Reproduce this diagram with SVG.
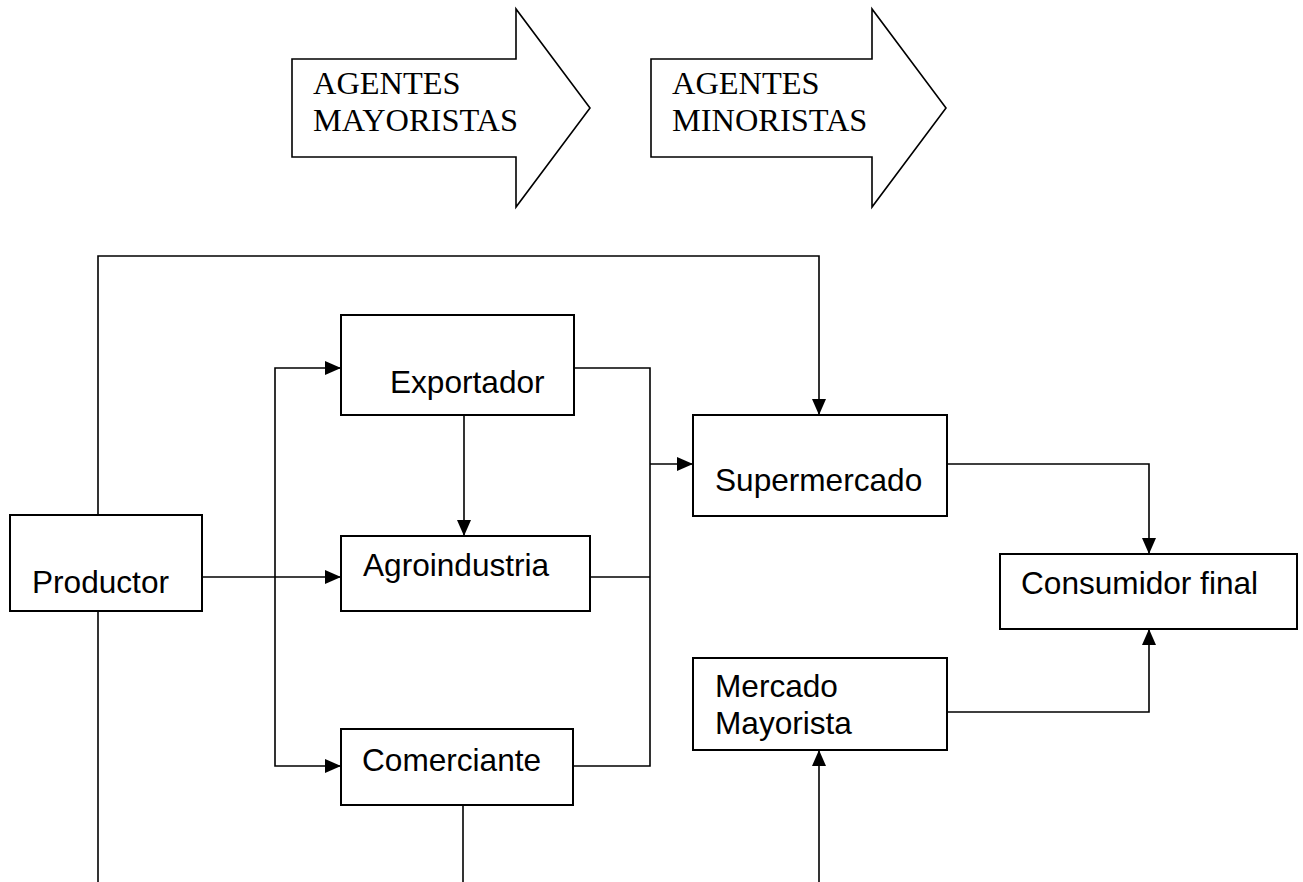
<svg xmlns="http://www.w3.org/2000/svg" width="1303" height="882" viewBox="0 0 1303 882">
<style>
.box{fill:#fff;stroke:#000;stroke-width:2}
.big{fill:#fff;stroke:#000;stroke-width:1.6;stroke-linejoin:miter}
.t{font-family:"Liberation Sans",Arial,sans-serif;font-size:31.6px;fill:#000}
.s{font-family:"Liberation Serif","Times New Roman",serif;font-size:32.4px;fill:#000}
.ln{fill:none;stroke:#000;stroke-width:1.6}
</style>
<defs>
<marker id="ah" viewBox="0 0 16 14" refX="16" refY="7" markerWidth="16" markerHeight="14" markerUnits="userSpaceOnUse" orient="auto">
<path d="M0,0 L16,7 L0,14 Z" fill="#000"/>
</marker>
</defs>
<rect width="1303" height="882" fill="#fff"/>
<g id="arrow-mayoristas">
<path class="big" d="M292,59 L516,59 L516,9 L590,108 L516,207 L516,157 L292,157 Z"/>
<text class="s" x="313" y="94">AGENTES</text>
<text class="s" x="313" y="131">MAYORISTAS</text>
</g>
<g id="arrow-minoristas">
<path class="big" d="M651,59 L872,59 L872,9 L946,108 L872,207 L872,157 L651,157 Z"/>
<text class="s" x="672" y="94">AGENTES</text>
<text class="s" x="672" y="131">MINORISTAS</text>
</g>
<g id="connectors">
<polyline class="ln" points="98,515 98,256 819,256 819,415" marker-end="url(#ah)"/>
<line class="ln" x1="98" y1="611" x2="98" y2="882"/>
<line class="ln" x1="202" y1="577" x2="341" y2="577" marker-end="url(#ah)"/>
<polyline class="ln" points="275,577 275,368 341,368" marker-end="url(#ah)"/>
<polyline class="ln" points="275,577 275,766 341,766" marker-end="url(#ah)"/>
<line class="ln" x1="464" y1="415" x2="464" y2="536" marker-end="url(#ah)"/>
<polyline class="ln" points="574,368 650,368 650,766 573,766"/>
<line class="ln" x1="590" y1="577" x2="650" y2="577"/>
<line class="ln" x1="650" y1="464" x2="693" y2="464" marker-end="url(#ah)"/>
<polyline class="ln" points="947,464 1149,464 1149,554" marker-end="url(#ah)"/>
<polyline class="ln" points="947,712 1149,712 1149,629" marker-end="url(#ah)"/>
<line class="ln" x1="463" y1="805" x2="463" y2="882"/>
<line class="ln" x1="819" y1="882" x2="819" y2="750" marker-end="url(#ah)"/>
</g>
<g id="productor">
<rect class="box" x="10" y="515" width="192" height="96"/>
<text class="t" x="32" y="593">Productor</text>
</g>
<g id="exportador">
<rect class="box" x="341" y="315" width="233" height="100"/>
<text class="t" x="390" y="393">Exportador</text>
</g>
<g id="agroindustria">
<rect class="box" x="341" y="536" width="249" height="75"/>
<text class="t" x="363" y="576">Agroindustria</text>
</g>
<g id="comerciante">
<rect class="box" x="341" y="729" width="232" height="76"/>
<text class="t" x="362" y="771">Comerciante</text>
</g>
<g id="supermercado">
<rect class="box" x="693" y="415" width="254" height="101"/>
<text class="t" x="715" y="491">Supermercado</text>
</g>
<g id="consumidor-final">
<rect class="box" x="1000" y="554" width="297" height="75"/>
<text class="t" x="1021" y="594">Consumidor final</text>
</g>
<g id="mercado-mayorista">
<rect class="box" x="693" y="658" width="254" height="92"/>
<text class="t" x="715" y="697">Mercado</text>
<text class="t" x="715" y="734">Mayorista</text>
</g>
</svg>
